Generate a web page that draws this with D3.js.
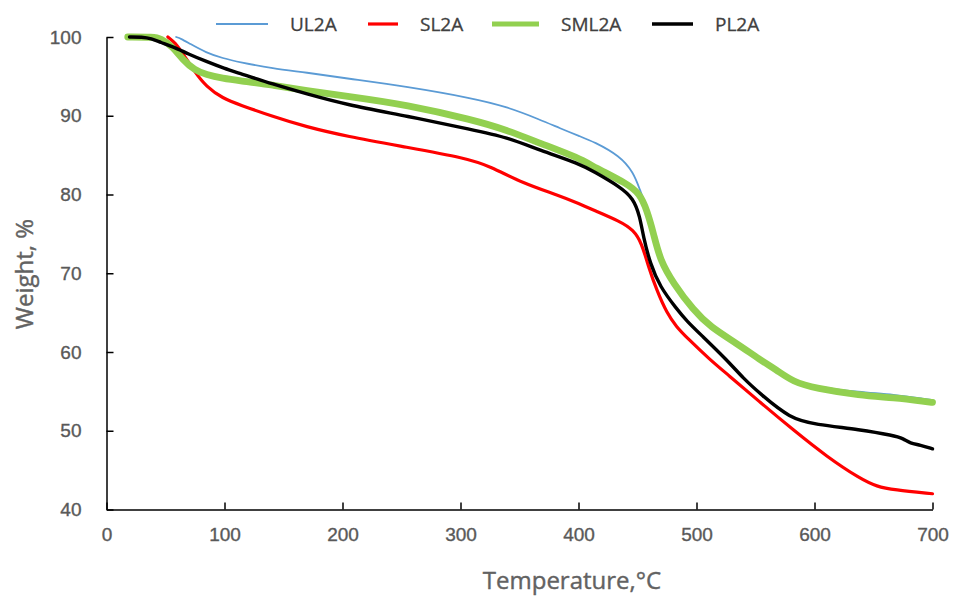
<!DOCTYPE html>
<html>
<head>
<meta charset="utf-8">
<script src="https://cdn.jsdelivr.net/npm/d3@7"></script>
<style>
  html, body { margin: 0; padding: 0; background: #fff; }
  svg { display: block; font-family: "Open Sans", "Liberation Sans", sans-serif; }
</style>
</head>
<body>
<svg id="chart" width="953" height="598"></svg>
<script>
// Thermogravimetric curves: weight (%) against temperature (°C)
const seriesNames = ["UL2A", "SL2A", "SML2A", "PL2A"];

const ul2aTemp   = [59, 63, 70, 84.5, 98.6, 112.7, 141, 169, 203, 254.6, 311, 339, 367.5, 384.5, 401, 413, 435, 446.6, 452, 458, 463.6, 469, 480.5, 497.5, 511.6, 534, 554, 568, 582, 600.6, 638.7, 667, 695, 700];
const ul2aWeight = [100, 99.8, 99.2, 98.0, 97.3, 96.8, 96.0, 95.5, 94.75, 93.7, 92.2, 91.15, 89.5, 88.4, 87.4, 86.7, 84.9, 82.8, 80.6, 78.3, 75.3, 72.0, 69.0, 65.6, 63.4, 61.3, 59.1, 57.8, 56.4, 55.6, 54.9, 54.6, 54.0, 53.9];

const sl2aTemp   = [52, 58, 64.7, 74.6, 84.5, 98.6, 112.7, 141, 169, 203, 254.6, 305, 325, 353, 383, 401, 413, 435, 446.6, 453.7, 459.3, 466.4, 475, 483, 492, 511.6, 526, 554, 582, 610.5, 638.7, 653, 667, 700];
const sl2aWeight = [100, 99.3, 97.9, 95.6, 93.7, 92.2, 91.4, 89.9, 88.6, 87.4, 86.0, 84.6, 83.6, 81.4, 79.9, 78.8, 78.0, 76.6, 75.5, 73.8, 70.8, 67.8, 64.9, 63.2, 61.8, 59.0, 57.2, 53.6, 50.1, 46.7, 43.9, 42.9, 42.5, 42.0];

const sml2aTemp   = [18, 40, 46, 56, 64.7, 74.6, 84.5, 98.6, 112.7, 141, 169, 203, 254.6, 311, 339, 367.5, 401, 413, 441, 452, 458, 463.6, 469, 480.5, 497.5, 511.6, 534, 554, 568, 582, 600.6, 638.7, 667, 695, 700];
const sml2aWeight = [100, 100, 99.8, 98.8, 97.1, 95.8, 95.2, 94.75, 94.45, 93.9, 93.2, 92.5, 91.4, 89.45, 88.2, 86.5, 84.6, 83.5, 81.4, 80.1, 78.0, 75.05, 71.7, 68.7, 65.3, 63.2, 61.1, 59.0, 57.7, 56.2, 55.4, 54.5, 54.2, 53.7, 53.6];

const pl2aTemp   = [19.5, 30, 38, 46, 56, 70, 84.5, 100, 112.7, 141, 169, 203, 254.6, 311, 339, 367.5, 401, 413, 435, 446.6, 452, 455, 460.8, 469, 483, 492, 503, 525.8, 540, 554, 579.4, 600.6, 638.7, 667, 675.4, 681, 689.6, 700];
const pl2aWeight = [100, 100, 99.8, 99.3, 98.8, 97.8, 96.9, 96.0, 95.4, 94.0, 92.8, 91.4, 89.96, 88.2, 87.3, 85.6, 83.9, 82.9, 81.0, 79.5, 77.2, 74.6, 71.2, 68.3, 65.5, 63.9, 62.3, 59.0, 56.6, 54.7, 51.55, 50.8, 50.15, 49.4, 49.0, 48.4, 48.2, 47.7];

const xTicks = [0, 100, 200, 300, 400, 500, 600, 700];
const yTicks = [40, 50, 60, 70, 80, 90, 100];

const series = [
  { name: seriesNames[0], temp: ul2aTemp,  weight: ul2aWeight,  color: "#5B9BD5", width: 1.8 },
  { name: seriesNames[1], temp: sl2aTemp,  weight: sl2aWeight,  color: "#FF0000", width: 3.2 },
  { name: seriesNames[2], temp: sml2aTemp, weight: sml2aWeight, color: "#92D050", width: 6.8 },
  { name: seriesNames[3], temp: pl2aTemp,  weight: pl2aWeight,  color: "#000000", width: 3.4 }
];

const svg = d3.select("#chart");
const x = d3.scaleLinear().domain([0, 700]).range([106.5, 932.5]);
const y = d3.scaleLinear().domain([40, 100]).range([509.5, 37]);

// Smoothed curves through the measured points
const line = d3.line()
  .x(d => x(d[0]))
  .y(d => y(d[1]))
  .curve(d3.curveBasis);

svg.append("g").selectAll("path")
  .data(series)
  .join("path")
  .attr("d", s => line(s.temp.map((t, i) => [t, s.weight[i]])))
  .attr("fill", "none")
  .attr("stroke", s => s.color)
  .attr("stroke-width", s => s.width)
  .attr("stroke-linejoin", "round")
  .attr("stroke-linecap", "round");

// Axes: ticks point into the plot
const xAxis = svg.append("g")
  .attr("transform", `translate(0,${y(40)})`)
  .call(d3.axisBottom(x).tickValues(xTicks).tickSizeInner(-7).tickSizeOuter(0).tickPadding(18));

const yAxis = svg.append("g")
  .attr("transform", `translate(${x(0)},0)`)
  .call(d3.axisLeft(y).tickValues(yTicks).tickSizeInner(-7).tickSizeOuter(0).tickPadding(25));

[xAxis, yAxis].forEach(g => {
  g.select(".domain").attr("stroke", "#000").attr("stroke-width", 1.5);
  g.selectAll(".tick line").attr("stroke", "#000").attr("stroke-width", 1.5);
  g.selectAll(".tick text")
    .attr("fill", "#595959")
    .attr("stroke", "#595959")
    .attr("stroke-width", 0.35)
    .style("font-size", "19px");
});

// Axis titles
svg.append("text")
  .attr("x", 572)
  .attr("y", 589)
  .attr("text-anchor", "middle")
  .attr("fill", "#626262")
  .attr("stroke", "#626262")
  .attr("stroke-width", 0.4)
  .style("font-size", "24px")
  .text("Temperature,°C");

svg.append("text")
  .attr("transform", "translate(33,274) rotate(-90)")
  .attr("text-anchor", "middle")
  .attr("fill", "#626262")
  .attr("stroke", "#626262")
  .attr("stroke-width", 0.4)
  .style("font-size", "24px")
  .text("Weight, %");

// Legend
const legendItems = [
  { x: 216, len: 52 },
  { x: 368, len: 30 },
  { x: 492, len: 47 },
  { x: 652, len: 41 }
];

const legend = svg.append("g").selectAll("g")
  .data(series)
  .join("g")
  .attr("transform", (s, i) => `translate(${legendItems[i].x},24)`);

legend.append("line")
  .attr("x1", 0)
  .attr("x2", (s, i) => legendItems[i].len)
  .attr("stroke", s => s.color)
  .attr("stroke-width", s => Math.min(s.width, 5));

legend.append("text")
  .attr("x", (s, i) => legendItems[i].len + 22)
  .attr("y", 7)
  .attr("fill", "#404040")
  .attr("stroke", "#404040")
  .attr("stroke-width", 0.3)
  .style("font-size", "19px")
  .text(s => s.name);
</script>
</body>
</html>
